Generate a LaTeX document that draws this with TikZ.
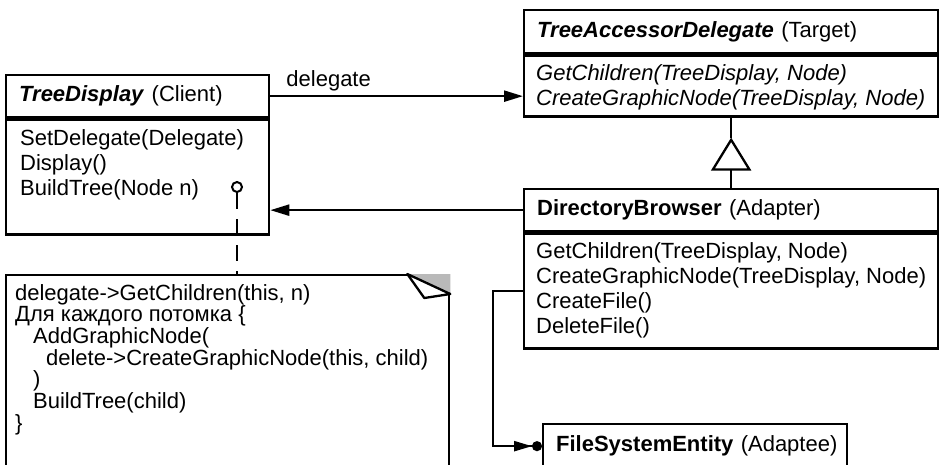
\documentclass[tikz,border=0pt]{standalone}
\usepackage{fontspec}
\setmainfont{Liberation Sans}
\usetikzlibrary{arrows.meta,positioning}

\begin{document}
\begin{tikzpicture}[x=1pt,y=-1pt,line width=2.3pt,
      frame/.style={draw,rectangle,anchor=north west,inner sep=0pt},
      head/.style={frame,align=left,inner xsep=13pt,font=\fontsize{22}{25}\selectfont},
      ops/.style={anchor=north west,align=left,inner sep=0pt,font=\fontsize{22}{25}\selectfont},
      memo/.style={ops,font=\fontsize{22}{21.7}\selectfont},
      arr/.style={-{Triangle[length=19pt,width=11pt]}},
      gen/.style={-{Triangle[open,length=33pt,width=40pt]}},
      adapt/.style={-{Triangle[length=18pt,width=10pt,sep=0pt]Circle[length=10pt,sep=0pt]}}]
      \useasboundingbox (0,0) rectangle (939,464);
      \clip (0,0) rectangle (939,464);

      \node[head,text width=237pt,minimum height=42pt] (tdh) at (5,74) {\textbf{\textit{TreeDisplay}} (Client)};
      \node[frame,minimum width=263pt,minimum height=115pt] (tdb) at (tdh.south west) {};
      \node[ops] (tdops) [below right=10pt and 14pt of tdb.north west] {SetDelegate(Delegate)\\Display()\\BuildTree(Node n)};
      \node[draw,circle,minimum size=10pt,inner sep=0pt,line width=2pt] (hook) at (237,187) {};

      \node[head,text width=388pt,minimum height=43pt] (tah) at (523,9) {\textbf{\textit{TreeAccessorDelegate}} (Target)};
      \node[frame,minimum width=414pt,minimum height=61pt] (tab) at (tah.south west) {};
      \node[ops] (taops) [below right=9pt and 12pt of tab.north west] {\itshape GetChildren(TreeDisplay, Node)\\\itshape CreateGraphicNode(TreeDisplay, Node)};

      \node[head,text width=388pt,minimum height=42pt] (dbh) at (523,188) {\textbf{DirectoryBrowser} (Adapter)};
      \node[frame,minimum width=414pt,minimum height=115pt] (dbb) at (dbh.south west) {};
      \node[ops] (dbops) [below right=9pt and 12pt of dbb.north west] {GetChildren(TreeDisplay, Node)\\CreateGraphicNode(TreeDisplay, Node)\\CreateFile()\\DeleteFile()};

      \node[head,inner xsep=13pt,text width=278pt,minimum height=44pt] (fse) at (542,423) {\mbox{\textbf{FileSystemEntity} (Adaptee)}};

      \node[frame,minimum width=443pt,minimum height=200pt] (note) at (5,274) {};
      \node[memo] (code) [below right=9pt and 9pt of note.north west] {delegate->GetChildren(this, n)\\
        Для каждого потомка \{\\
        \hspace*{18pt}AddGraphicNode(\\
        \hspace*{31pt}delete->CreateGraphicNode(this, child)\\
        \hspace*{18pt})\\
        \hspace*{18pt}BuildTree(child)\\
        \}};
      \fill[gray!55] ([xshift=-43pt]note.north east) -- (note.north east) -- ([yshift=-20pt]note.north east) -- cycle;
      \draw[fill=white,line join=round] ([xshift=-43pt]note.north east) -- ([xshift=-26pt,yshift=-24pt]note.north east) -- ([yshift=-20pt]note.north east) -- cycle;

      \node[ops] (dlg) [above right=4pt and 15pt of tdh.east] {delegate};

      \draw[arr] (tdh.east) -- (tdh.east -| tab.west);
      \draw[arr] (dbh.west) -- (dbh.west -| tdb.east);
      \draw[gen] (dbh.north) -- ([yshift=-20pt]tab.south);
      \draw (tab.south) -- ([yshift=-20pt]tab.south);
      \draw[dashed,dash pattern=on 16pt off 10pt] (hook.south) -- (hook |- note.north);
      \draw[adapt] (dbb.west) -- ++(-30,0) |- (fse.west);
    \end{tikzpicture}
\end{document}
